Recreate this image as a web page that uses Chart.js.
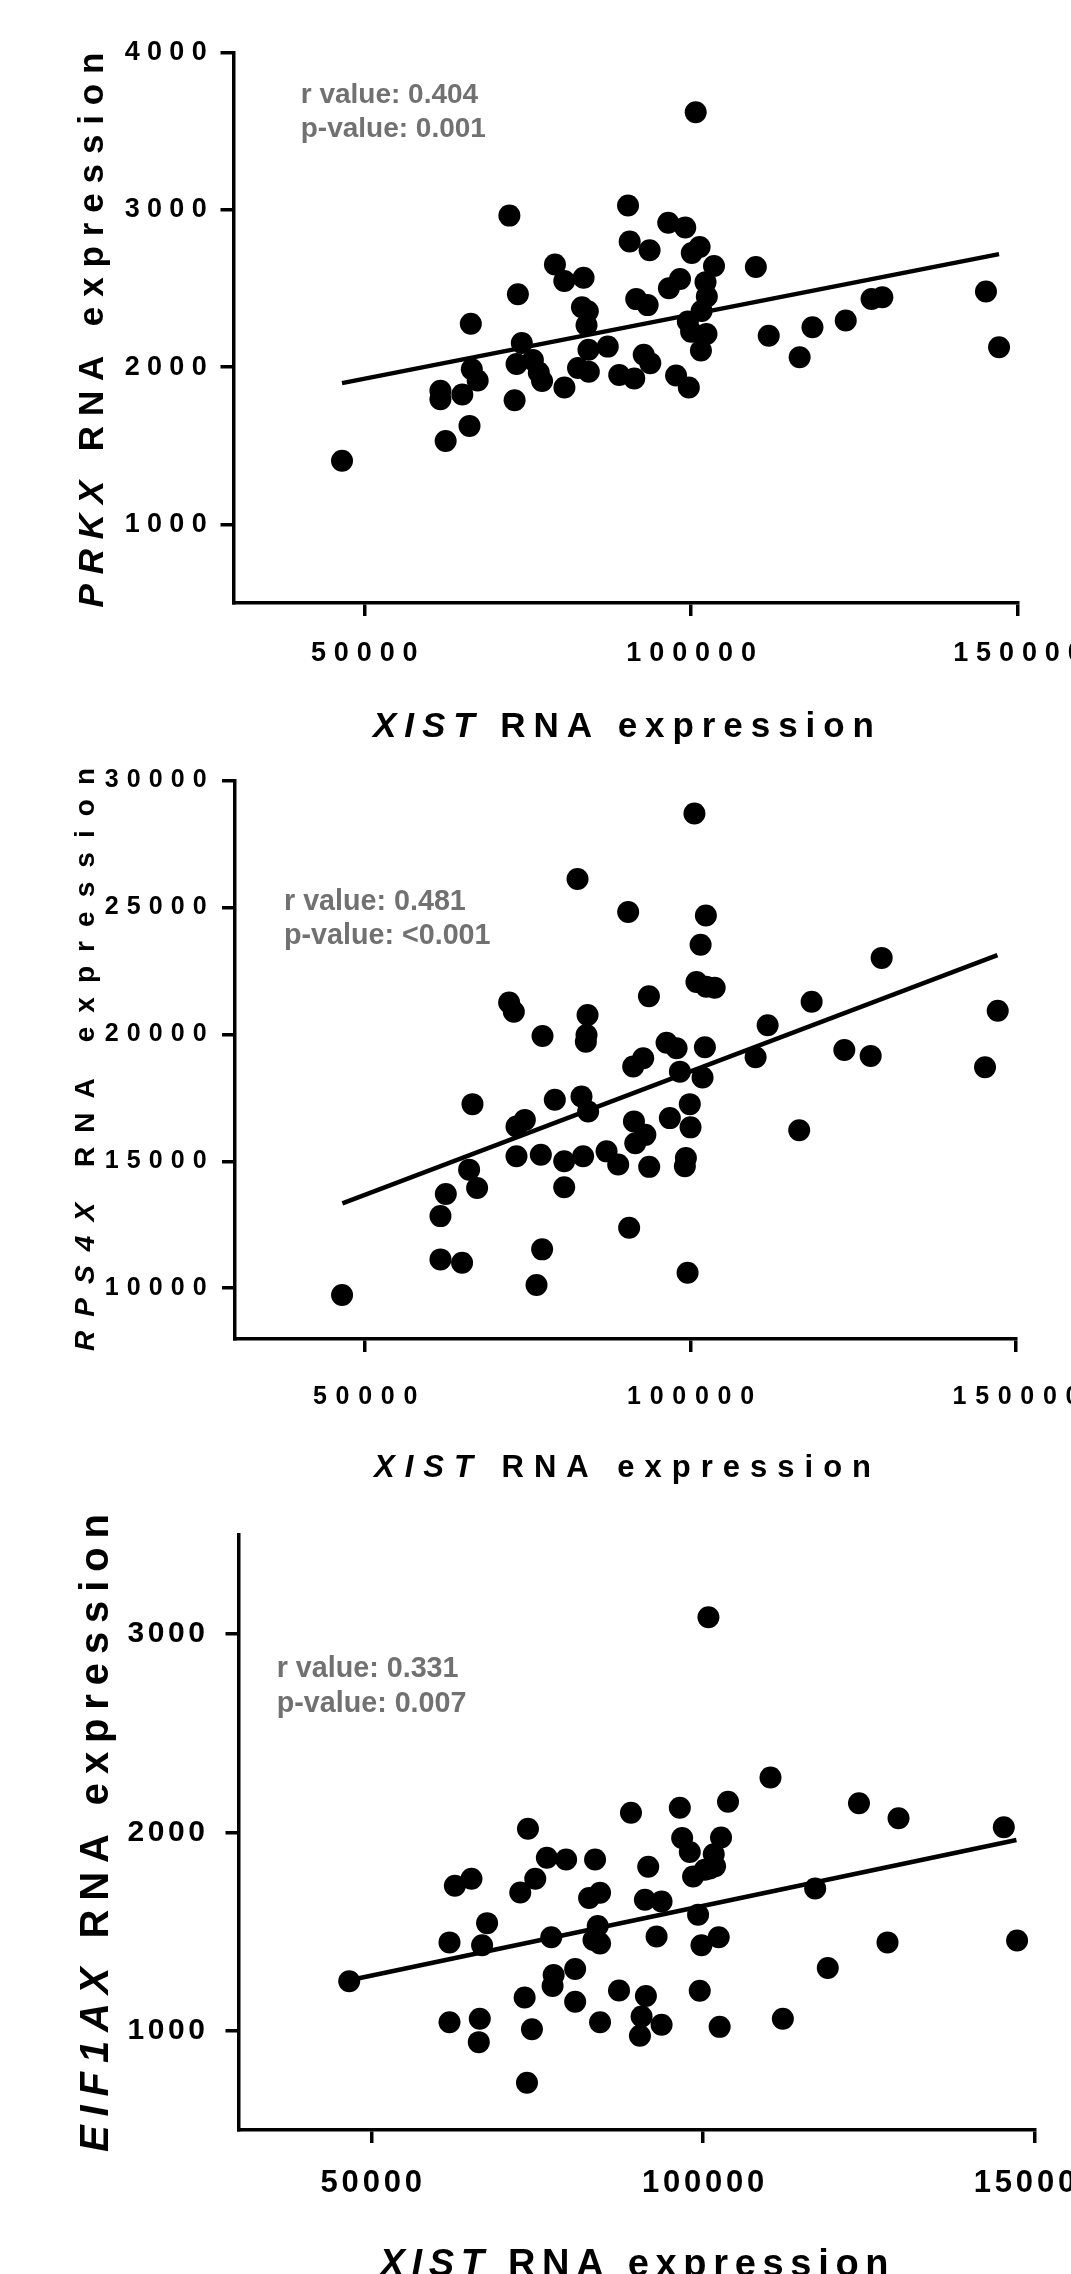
<!DOCTYPE html>
<html><head><meta charset="utf-8">
<script src="https://cdn.jsdelivr.net/npm/chart.js@4.4.1/dist/chart.umd.min.js"></script>
<style>
html,body{margin:0;padding:0;background:#fff;}
body{width:1071px;height:2274px;overflow:hidden;position:relative;}
canvas{position:absolute;left:0;}
</style></head>
<body>
<canvas id="c1" width="1200" height="760" style="top:0px"></canvas>
<canvas id="c2" width="1200" height="800" style="top:700px"></canvas>
<canvas id="c3" width="1200" height="824" style="top:1450px"></canvas>
<script>
// ---------- data ----------
const xistPRKX = [46600,100700,72200,90350,96500,99100,90600,93650,100100,101300,103500,109900,79170,83550,80600,98300,96600,73500,102200,102400,91600,93350,83300,84200,101600,127600,129250,145100,66300,99500,84000,123650,118560,111870,102350,100000,74100,87250,84300,101500,147100,116600,73300,75800,66450,67350,76700,77200,82700,84350,89000,91300,92750,93750,97700,99650,80620,61650,61650,65000,73000,66100,62450];
const prkx = [1405,3620,2963,3027,2918,2887,2798,2743,2725,2764,2642,2636,2652,2568,2547,2560,2501,2463,2540,2449,2432,2394,2380,2355,2357,2433,2444,2480,2276,2290,2266,2296,2253,2199,2210,2225,2153,2130,2110,2105,2126,2063,2020,2045,1986,1915,1965,1912,1994,1970,1950,1928,2078,2025,1946,1870,1870,1850,1795,1826,1789,1626,1530];

const xistRPS4X = [46450,82630,90410,102350,101540,100900,102400,103700,93600,72120,72840,84170,84010,83910,77250,96310,97850,102200,91180,92720,98360,101840,66490,79140,83240,84260,73250,74530,99880,96810,91300,93050,91500,99990,73250,76990,80580,83490,87090,88880,93640,99280,99120,65970,67200,80580,62390,61570,90560,77190,61570,64890,76330,99540,129360,118600,111840,147190,109990,123620,127670,145240,116690,100590];
const rps4x = [9730,26120,24820,24680,23530,22060,21870,21830,21500,21250,20890,20760,19970,19710,19930,19670,19450,19490,18730,19060,18530,18300,17250,17420,17550,16960,16370,16630,17250,16700,16570,16040,15710,16335,15200,15260,15000,15200,15390,14870,14780,15130,14800,14670,13950,13980,13710,12840,12380,11530,11135,11005,10130,10610,23010,21280,20360,20930,19100,19380,19150,18700,16220,28700];

const xistEIF1AX = [46680,100800,73610,76460,79360,83720,89130,96490,103750,96840,97990,102700,101600,101800,101000,98490,100240,91730,62600,65100,72450,74710,82820,84470,91230,93740,99240,67450,66700,61790,77120,84120,83480,84470,92990,99750,102350,80720,77480,77320,73110,80720,87330,91380,90730,90480,93740,99490,102490,61790,66350,66200,74210,84470,73460,110150,123480,129440,145300,116880,127780,147300,118780,112010];
const eif1ax = [1250,3085,2019,1873,1864,1864,2100,2125,2155,1972,1902,1975,1890,1830,1818,1778,1812,1827,1732,1767,1697,1767,1670,1696,1661,1652,1585,1543,1432,1446,1472,1529,1458,1440,1476,1432,1472,1312,1282,1226,1168,1147,1203,1176,1072,975,1031,1202,1020,1043,1061,943,1008,1043,738,2277,2147,2072,2026,1718,1446,1455,1317,1061];

// regression lines (end points)
const fitXPRKX = [46600, 147100], fitYPRKX = [1898, 2718];
const fitXRPS4X = [46500, 147150], fitYRPS4X = [13340, 23115];
const fitXEIF1AX = [46700, 147200], fitYEIF1AX = [1255, 1962];

// tick labels
const xistTicks = [50000, 100000, 150000];
const prkxTicks = [1000, 2000, 3000, 4000];
const rps4xTicks = [10000, 15000, 20000, 25000, 30000];
const eif1axTicks = [1000, 2000, 3000];

// annotation texts
const statsPRKX = ['r value: 0.404', 'p-value: 0.001'];
const statsRPS4X = ['r value: 0.481', 'p-value: <0.001'];
const statsEIF1AX = ['r value: 0.331', 'p-value: 0.007'];

// ---------- drawing ----------
const FAM = '"Liberation Sans", Arial, Helvetica, sans-serif';

function spacedText(ctx, segs, size, span, cx, cy, rotate) {
  ctx.save();
  ctx.letterSpacing = '0px';
  let w0 = 0, n = 0;
  const fnt = s => (s.i ? 'italic ' : '') + 'bold ' + size + 'px ' + FAM;
  segs.forEach(s => { ctx.font = fnt(s); w0 += ctx.measureText(s.t).width; n += s.t.length; });
  const ls = (span - w0) / (n - 1);
  ctx.letterSpacing = ls + 'px';
  ctx.translate(cx, cy);
  if (rotate) ctx.rotate(-Math.PI / 2);
  ctx.fillStyle = '#000';
  ctx.textBaseline = 'alphabetic';
  ctx.textAlign = 'left';
  let x = -span / 2;
  segs.forEach(s => { ctx.font = fnt(s); ctx.fillText(s.t, x, 0); x += ctx.measureText(s.t).width; });
  ctx.restore();
}

function makeChart(id, c) {
  const canvas = document.getElementById(id);
  const top = c.canvasTop, H = canvas.height, W = canvas.width;
  const pts = c.xs.map((x, i) => ({ x: x, y: c.ys[i] }));
  const fit = c.fx.map((x, i) => ({ x: x, y: c.fy[i] }));
  const spacing = { x: c.xTick.ls, y: c.yTick.ls };

  const plugin = {
    id: 'deco' + id,
    afterUpdate(chart) {
      Object.values(chart.scales).forEach(s => {
        if (s.__wrapped) return;
        const orig = s.drawLabels;
        s.drawLabels = function (area) {
          const ctx = this.ctx;
          const ls = spacing[this.id] || 0;
          ctx.save();
          ctx.letterSpacing = ls + 'px';
          if (this.isHorizontal()) ctx.translate(ls / 2, 0); else ctx.translate(ls, 0);
          orig.call(this, area);
          ctx.restore();
        };
        s.__wrapped = true;
      });
    },
    afterDraw(chart) {
      const ctx = chart.ctx;
      spacedText(ctx, c.yTitle.segs, c.yTitle.size, c.yTitle.span, c.yTitle.x, c.yTitle.y - top, true);
      spacedText(ctx, c.xTitle.segs, c.xTitle.size, c.xTitle.span, c.xTitle.x, c.xTitle.y - top, false);
      ctx.save();
      ctx.fillStyle = '#717171';
      ctx.font = 'bold ' + c.stats.size + 'px ' + FAM;
      ctx.textAlign = 'left';
      ctx.textBaseline = 'alphabetic';
      c.stats.lines.forEach((t, i) => ctx.fillText(t, c.stats.x, c.stats.ys[i] - top));
      ctx.restore();
    }
  };

  const tickGrid = { drawOnChartArea: false, drawTicks: true, tickLength: 13, lineWidth: 3.5, color: '#000', tickColor: '#000', tickWidth: 3.5 };
  const border = { display: true, color: '#000', width: 3.5 };

  return new Chart(canvas, {
    type: 'scatter',
    data: {
      datasets: [
        { data: pts, pointRadius: 11, pointHoverRadius: 11, backgroundColor: '#000', borderWidth: 0, pointBorderWidth: 0, showLine: false, order: 1 },
        { data: fit, showLine: true, borderColor: '#000', borderWidth: 4.5, pointRadius: 0, pointHoverRadius: 0, fill: false, order: 2 }
      ]
    },
    options: {
      responsive: false, animation: false, devicePixelRatio: 1,
      events: [],
      plugins: { legend: { display: false }, tooltip: { enabled: false } },
      layout: { padding: { left: 0, top: c.area.top - top, right: W - c.area.right, bottom: 0 } },
      scales: {
        x: {
          type: 'linear', position: 'bottom', min: c.xMin, max: c.xMax,
          afterBuildTicks: s => { s.ticks = xistTicks.map(v => ({ value: v })); },
          afterFit: s => { s.height = H - (c.area.bottom - top); },
          grid: tickGrid, border: border,
          ticks: { color: '#000', font: { family: FAM, size: c.xTick.size, weight: 'bold' }, padding: c.xTick.pad, maxRotation: 0, autoSkip: false, callback: v => String(v) }
        },
        y: {
          type: 'linear', position: 'left', min: c.yMin, max: c.yMax,
          afterBuildTicks: s => { s.ticks = c.yTicks.map(v => ({ value: v })); },
          afterFit: s => { s.width = c.area.left; },
          grid: tickGrid, border: border,
          ticks: { color: '#000', font: { family: FAM, size: c.yTick.size, weight: 'bold' }, padding: c.yTick.pad, autoSkip: false, callback: v => String(v) }
        }
      }
    },
    plugins: [plugin]
  });
}

makeChart('c1', {
  canvasTop: 0, xs: xistPRKX, ys: prkx, fx: fitXPRKX, fy: fitYPRKX,
  xMin: 30000, xMax: 150000, yMin: 500, yMax: 4000, yTicks: prkxTicks,
  area: { left: 233.5, right: 1018, top: 52.5, bottom: 603 },
  xTick: { size: 27, ls: 7.9, pad: 21.8 }, yTick: { size: 27, ls: 7.3, pad: 13.8 },
  yTitle: { segs: [{ t: 'PRKX', i: true }, { t: ' RNA expression' }], size: 35, span: 555, x: 102.5, y: 330 },
  xTitle: { segs: [{ t: 'XIST', i: true }, { t: ' RNA expression' }], size: 35, span: 501, x: 623.5, y: 736.7 },
  stats: { lines: statsPRKX, size: 28, x: 300.7, ys: [102.8, 137] }
});

makeChart('c2', {
  canvasTop: 700, xs: xistRPS4X, ys: rps4x, fx: fitXRPS4X, fy: fitYRPS4X,
  xMin: 30000, xMax: 150000, yMin: 8000, yMax: 30000, yTicks: rps4xTicks,
  area: { left: 235, right: 1016, top: 780.4, bottom: 1339 },
  xTick: { size: 25, ls: 8.7, pad: 30.5 }, yTick: { size: 25, ls: 8.1, pad: 15.3 },
  yTitle: { segs: [{ t: 'RPS4X', i: true }, { t: ' RNA expression' }], size: 28, span: 583, x: 94, y: 1059.5 },
  xTitle: { segs: [{ t: 'XIST', i: true }, { t: ' RNA expression' }], size: 31, span: 497, x: 622.5, y: 1477 },
  stats: { lines: statsRPS4X, size: 28.7, x: 284, ys: [910, 944] }
});

makeChart('c3', {
  canvasTop: 1450, xs: xistEIF1AX, ys: eif1ax, fx: fitXEIF1AX, fy: fitYEIF1AX,
  xMin: 30000, xMax: 150000, yMin: 500, yMax: 3500, yTicks: eif1axTicks,
  area: { left: 238.5, right: 1035, top: 1535, bottom: 2130 },
  xTick: { size: 31, ls: 3.8, pad: 22.1 }, yTick: { size: 30, ls: 3.6, pad: 20.5 },
  yTitle: { segs: [{ t: 'EIF1AX', i: true }, { t: ' RNA expression' }], size: 40, span: 638, x: 108, y: 1833 },
  xTitle: { segs: [{ t: 'XIST', i: true }, { t: ' RNA expression' }], size: 38, span: 509, x: 634, y: 2276 },
  stats: { lines: statsEIF1AX, size: 28.7, x: 276.7, ys: [1676.5, 1711.5] }
});
</script>
</body></html>
